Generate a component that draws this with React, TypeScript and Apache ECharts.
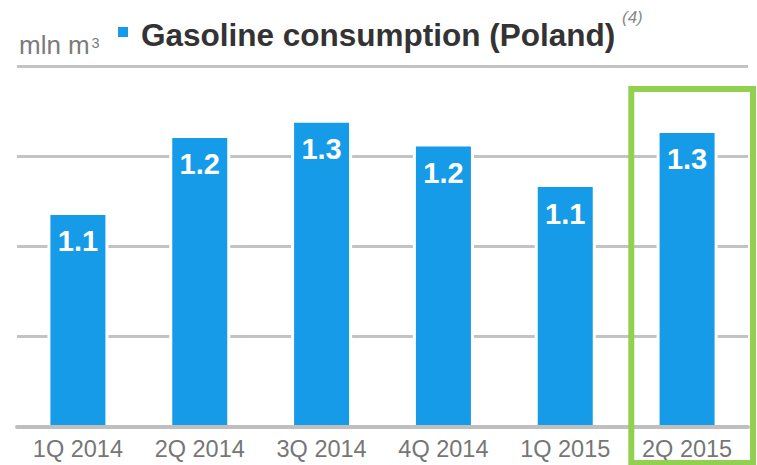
import React, { useEffect, useRef } from "react";
import * as echarts from "echarts";

const categories = ["1Q 2014", "2Q 2014", "3Q 2014", "4Q 2014", "1Q 2015", "2Q 2015"];
const consumption = [1.077, 1.248, 1.282, 1.229, 1.139, 1.259];
const axisMin = 0.6;
const axisMax = 1.4;
const axisStep = 0.2;

const FONT = "'Liberation Sans', Arial, sans-serif";

export default function App() {
  const ref = useRef<HTMLDivElement>(null);
  useEffect(() => {
    if (!ref.current) return;
    const chart = echarts.init(ref.current, null, { renderer: "svg" });
    chart.setOption({
      animation: false,
      backgroundColor: "#ffffff",
      textStyle: { fontFamily: FONT },
      grid: { left: 17, right: 9, top: 66.5, bottom: 38.3, containLabel: false },
      xAxis: {
        type: "category",
        data: categories,
        z: 10,
        axisLine: { show: true, lineStyle: { color: "#bfbfbf", width: 4 } },
        axisTick: { show: false },
        axisLabel: { color: "#767676", fontSize: 23.5, margin: 10, fontFamily: FONT },
      },
      yAxis: {
        type: "value",
        min: axisMin,
        max: axisMax,
        interval: axisStep,
        axisLine: { show: false },
        axisTick: { show: false },
        axisLabel: { show: false },
        splitLine: { show: true, lineStyle: { color: "#c3c3c3", width: 3 } },
      },
      series: [
        {
          type: "bar",
          data: consumption,
          barWidth: 61,
          itemStyle: { color: "#169be9", borderColor: "#ffffff", borderWidth: 3 },
          label: {
            show: true,
            position: "insideTop",
            distance: 15,
            color: "#ffffff",
            fontSize: 29,
            fontWeight: "bold",
            fontFamily: FONT,
            formatter: (p: any) => Number(p.value).toFixed(1),
          },
        },
      ],
      graphic: [
        {
          type: "text",
          x: 19,
          y: 45.3,
          style: { text: "mln m", fill: "#7b7b7b", fontSize: 26, fontFamily: FONT, verticalAlign: "middle" },
        },
        {
          type: "text",
          x: 91.5,
          y: 43,
          style: { text: "3", fill: "#7b7b7b", fontSize: 14.5, fontFamily: FONT, verticalAlign: "middle" },
        },
        {
          type: "rect",
          shape: { x: 118, y: 27, width: 10, height: 10 },
          style: { fill: "#169be9" },
        },
        {
          type: "text",
          x: 141,
          y: 34.5,
          style: {
            text: "Gasoline consumption (Poland)",
            fill: "#333333",
            fontSize: 31.5,
            fontWeight: "bold",
            fontFamily: FONT,
            verticalAlign: "middle",
          },
        },
        {
          type: "text",
          x: 622,
          y: 17.5,
          style: {
            text: "(4)",
            fill: "#8a8a8a",
            fontSize: 17,
            fontStyle: "italic",
            fontFamily: FONT,
            verticalAlign: "middle",
          },
        },
        {
          type: "rect",
          z: 20,
          shape: { x: 631.3, y: 89, width: 121.7, height: 374 },
          style: { fill: "none", stroke: "#92d050", lineWidth: 6 },
        },
      ],
    });
    return () => chart.dispose();
  }, []);
  return (
    <div
      ref={ref}
      style={{ position: "fixed", left: 0, top: 0, width: 757, height: 465 }}
    />
  );
}
